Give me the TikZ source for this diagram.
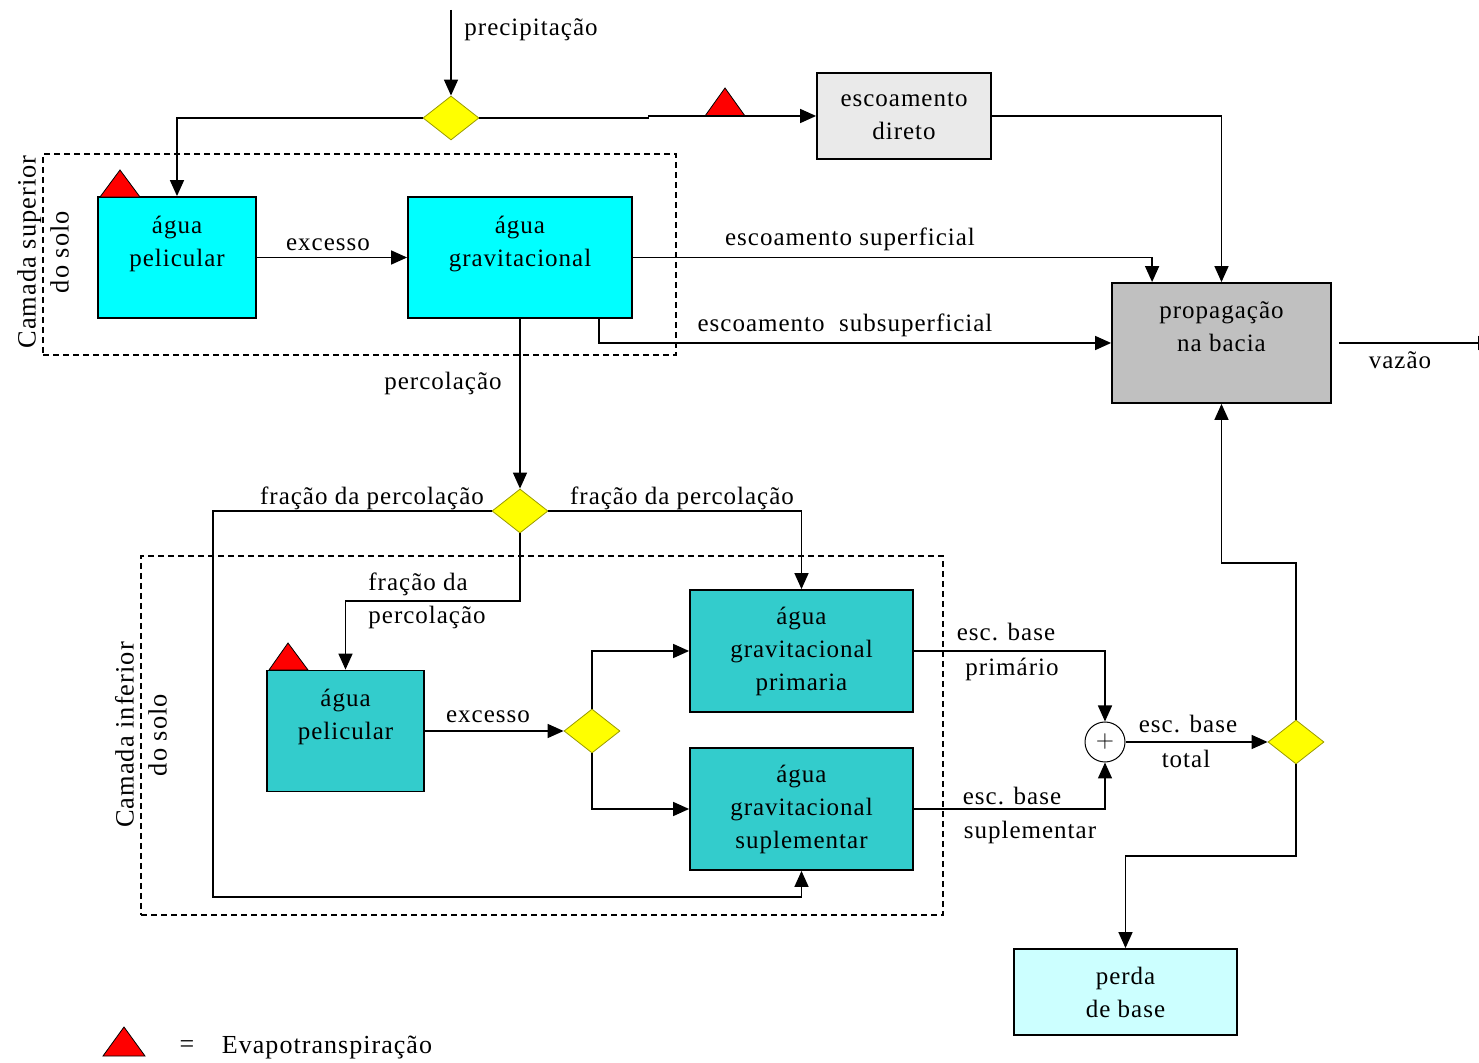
\documentclass[tikz,border=0pt]{standalone}
\usepackage{fontspec}
\setmainfont{Liberation Serif}[LetterSpace=4]
\usetikzlibrary{arrows.meta,shapes.geometric}
\definecolor{cyanbox}{HTML}{00FFFF}
\definecolor{tealbox}{HTML}{33CCCC}
\definecolor{lightcyan}{HTML}{CCFFFF}
\definecolor{lightgraybox}{HTML}{EAEAEA}
\definecolor{graybox}{HTML}{C0C0C0}
\definecolor{diayellow}{HTML}{FFFF00}
\definecolor{diaedge}{HTML}{9A9A00}
\begin{document}
\begin{tikzpicture}[x=0.5pt,y=-0.5pt,
  every node/.style={font=\fontsize{12.5}{16.5}\selectfont},
  box/.style={draw, line width=0.9pt, inner sep=0pt, align=center},
  dia/.style={diamond, draw=diaedge, fill=diayellow, line width=0.4pt, inner sep=0pt, aspect=1.27, minimum width=28pt, minimum height=22pt},
  flow/.style={line width=0.75pt, -{Triangle[length=8pt,width=7pt]}},
  zone/.style={draw, dashed, dash pattern=on 3pt off 2pt, line width=0.6pt, inner sep=0pt},
  lbl/.style={inner sep=1pt},
  side/.style={font=\fontsize{13.2}{16.5}\selectfont, rotate=90, align=center, inner sep=0pt},
  evt/.style={fill=red, draw=black, line width=0.4pt}]
\useasboundingbox (0,0) rectangle (1479,1063);

% zones
\node[zone, minimum width=316.5pt, minimum height=100.5pt] (zup) at (359.5,254.5) {};
\node[zone, minimum width=401pt, minimum height=179.5pt] (zlow) at (542,735.5) {};
\node[side] (lup) at (43,252) {Camada superior\\do solo};
\node[side] (llow) at (141,735) {Camada inferior\\do solo};

% boxes
\node[box, fill=cyanbox, minimum width=79pt, minimum height=60.5pt] (p1) at (177,257.5) {água\\pelicular\\\mbox{}};
\node[box, fill=cyanbox, minimum width=112pt, minimum height=60.5pt] (g1) at (520,257.5) {água\\gravitacional\\\mbox{}};
\node[box, fill=lightgraybox, minimum width=87pt, minimum height=43pt] (ed) at (904,116) {escoamento\\direto};
\node[box, fill=graybox, minimum width=109.5pt, minimum height=60pt] (prop) at (1221.5,343) {propagação\\na bacia\\\mbox{}};
\node[box, fill=tealbox, minimum width=78.5pt, minimum height=60.5pt] (p2) at (345.5,731) {água\\pelicular\\\mbox{}};
\node[box, fill=tealbox, minimum width=111.5pt, minimum height=61pt] (gp) at (801.5,651) {água\\gravitacional\\primaria};
\node[box, fill=tealbox, minimum width=111.5pt, minimum height=61pt] (gs) at (801.5,809) {água\\gravitacional\\suplementar};
\node[box, fill=lightcyan, minimum width=111.5pt, minimum height=43pt] (perda) at (1125.5,992) {perda\\de base};

% diamonds and sum
\node[dia] (d1) at (451,118) {};
\node[dia] (d2) at (520,511) {};
\node[dia] (d3) at (592,731) {};
\node[dia] (d4) at (1296,742) {};
\node[circle, draw, line width=0.5pt, minimum size=20pt, inner sep=0pt] (sum) at (1105,742) {$+$};

% evapotranspiration triangles
\draw[evt] (100,197) -- (120,170) -- (140,197) -- cycle;
\draw[evt] (705,116) -- (725,88) -- (745,116) -- cycle;
\draw[evt] (269,670) -- (288,643) -- (308,670) -- cycle;
\draw[evt] (103,1056) -- (124,1027) -- (145,1056) -- cycle;

% connectors
\coordinate (pin) at (451,10);
\coordinate (vout) at (1494,343);
\draw[flow] (pin) -- (d1.north);
\draw[flow] (d1.west) -| (p1.north);
\draw[flow] (d1.east) -- ++(169,0) |- (ed.west);
\draw[flow] (ed.east) -| (prop.north);
\draw[flow] (p1.east) -- (g1.west);
\draw[flow] (g1.east) -| ([xshift=20.5pt]prop.north west);
\draw[flow] ([xshift=-17pt]g1.south east) |- (prop.west);
\draw[flow] ([xshift=3.5pt]prop.east) -- (vout);
\draw[flow] (g1.south) -- (d2.north);
\draw[flow] (d2.west) -- (213,511) -- (213,897) -| (gs.south);
\draw[flow] (d2.east) -| (gp.north);
\draw[flow] (d2.south) -- (520,601) -| (p2.north);
\draw[flow] (p2.east) -- (d3.west);
\draw[flow] (d3.north) |- (gp.west);
\draw[flow] (d3.south) |- (gs.west);
\draw[flow] (gp.east) -| (sum.north);
\draw[flow] (gs.east) -| (sum.south);
\draw[flow] (sum.east) -- (d4.west);
\draw[flow] (d4.north) -- (1296,563) -| (prop.south);
\draw[flow] (d4.south) -- (1296,856) -| (perda.north);

% labels
\node[lbl] (tprec) at (531,30) {precipitação};
\node[lbl] (texc1) at (328,245) {excesso};
\node[lbl] (tsup) at (850,239) {escoamento superficial};
\node[lbl] (tsub) at (845,325) {escoamento\ \ subsuperficial};
\node[lbl] (tvaz) at (1400,360) {vazão};
\node[lbl] (tperc) at (443,383) {percolação};
\node[lbl] (tfl) at (372,498) {fração da percolação};
\node[lbl] (tfr) at (682,498) {fração da percolação};
\node[lbl, anchor=west, align=left] (tfm) at (366,601) {fração da\\percolação};
\node[lbl] (texc2) at (488,717) {excesso};
\node[lbl] (tb1) at (1006,632) {esc. base};
\node[lbl] (tb2) at (1012,669) {primário};
\node[lbl] (tb3) at (1012,796) {esc. base};
\node[lbl] (tb4) at (1030,832) {suplementar};
\node[lbl] (tb5) at (1188,724) {esc. base};
\node[lbl] (tb6) at (1186,759) {total};
\node[lbl, font=\fontsize{13}{16}\selectfont] (teq) at (187,1047) {=};
\node[lbl, font=\fontsize{13}{16}\selectfont] (tevap) at (327,1048) {Evapotranspiração};
\end{tikzpicture}
\end{document}
